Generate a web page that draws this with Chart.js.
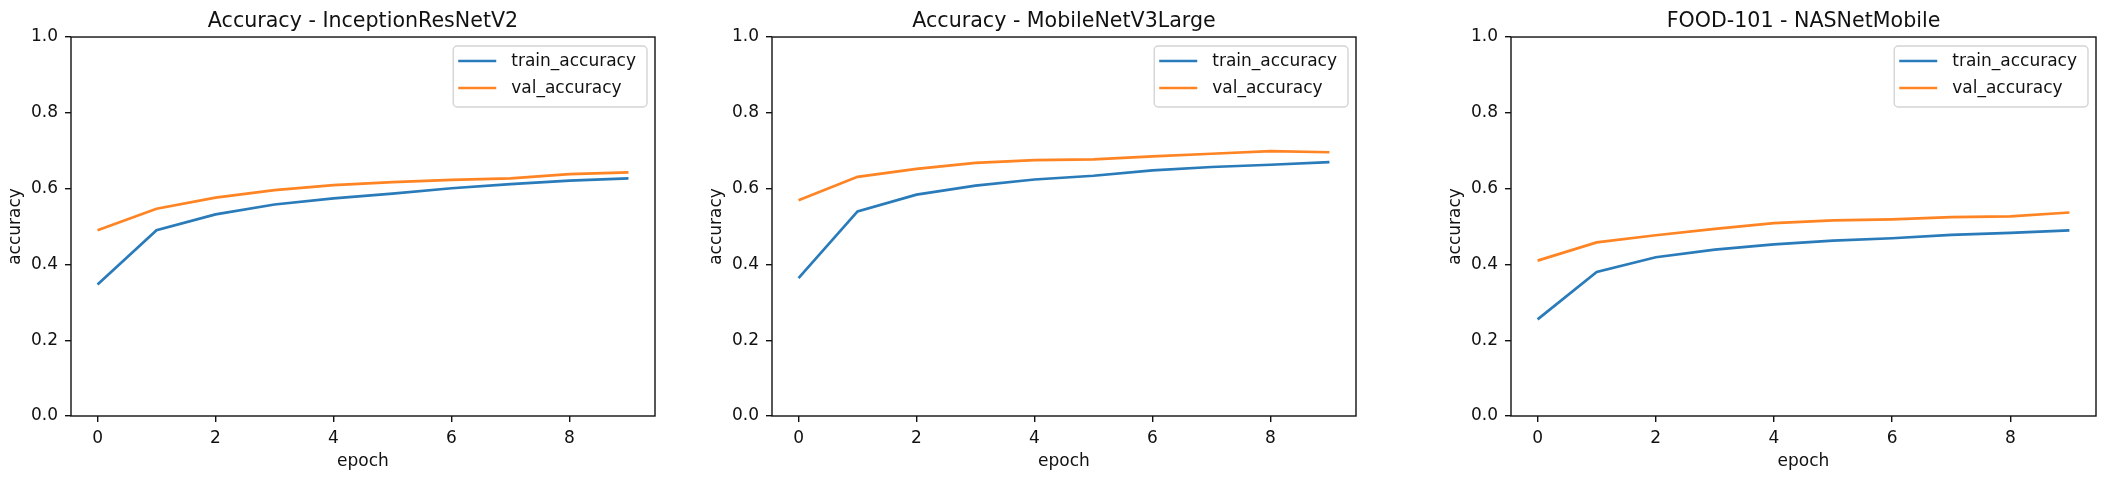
<!DOCTYPE html>
<html>
<head>
<meta charset="utf-8">
<script src="https://cdn.jsdelivr.net/npm/chart.js@4"></script>
<style>
    html, body { margin: 0; padding: 0; background: #fff; }
    body { width: 2106px; height: 478px; position: relative; overflow: hidden; }
    .panel { position: absolute; top: 0; }
</style>
</head>
<body>
<div class="panel" style="left:0px"><canvas id="chartInception" width="665" height="478"></canvas></div>
<div class="panel" style="left:701px"><canvas id="chartMobile" width="665" height="478"></canvas></div>
<div class="panel" style="left:1440px"><canvas id="chartNasnet" width="666" height="478"></canvas></div>
<script>
// ============================================
// Data
// ============================================
const epochs = [0, 1, 2, 3, 4, 5, 6, 7, 8, 9];
const xTicks = [0, 2, 4, 6, 8];
const yTicks = [0.0, 0.2, 0.4, 0.6, 0.8, 1.0];
const seriesLabels = ['train_accuracy', 'val_accuracy'];

const inceptionTrain = [0.347, 0.490, 0.532, 0.558, 0.574, 0.587, 0.601, 0.612, 0.621, 0.627];
const inceptionVal   = [0.490, 0.547, 0.576, 0.596, 0.609, 0.617, 0.623, 0.627, 0.638, 0.643];

const mobileTrain = [0.364, 0.540, 0.584, 0.608, 0.624, 0.634, 0.648, 0.657, 0.663, 0.670];
const mobileVal   = [0.569, 0.631, 0.652, 0.668, 0.675, 0.677, 0.685, 0.692, 0.699, 0.696];

const nasnetTrain = [0.255, 0.380, 0.419, 0.439, 0.453, 0.463, 0.469, 0.478, 0.483, 0.490];
const nasnetVal   = [0.410, 0.458, 0.477, 0.494, 0.509, 0.516, 0.519, 0.525, 0.527, 0.537];

// ============================================
// Style
// ============================================
const FONT = 'DejaVu Sans';
const BLUE = '#2a7bba';
const ORANGE = '#ff8424';
const INK = '#111';

// Box around the plot area (all four spines)
const framePlugin = {
    id: 'frame',
    afterDraw(chart) {
        const { ctx, chartArea: a } = chart;
        ctx.save();
        ctx.strokeStyle = INK;
        ctx.lineWidth = 1.4;
        ctx.strokeRect(a.left, a.top, a.right - a.left, a.bottom - a.top);
        ctx.restore();
    }
};

// Legend inside the plot, upper right, matplotlib style
const innerLegend = {
    id: 'innerLegend',
    afterDraw(chart) {
        const { ctx, chartArea: a } = chart;
        const sets = chart.data.datasets;
        ctx.save();
        ctx.font = '17px "' + FONT + '"';
        const textW = Math.max(...sets.map(d => ctx.measureText(d.label).width));
        const w = 5 + 38 + 15 + textW + 11;
        const h = 61;
        const x = a.right - 8 - w;
        const y = a.top + 9;

        ctx.beginPath();
        ctx.roundRect(x, y, w, h, 4);
        ctx.fillStyle = 'rgba(255,255,255,0.8)';
        ctx.fill();
        ctx.strokeStyle = '#d4d4d4';
        ctx.lineWidth = 1.4;
        ctx.stroke();

        sets.forEach((d, i) => {
            const cy = y + 15 + i * 27;
            ctx.beginPath();
            ctx.moveTo(x + 5, cy);
            ctx.lineTo(x + 43, cy);
            ctx.strokeStyle = d.borderColor;
            ctx.lineWidth = 2.7;
            ctx.stroke();
            ctx.fillStyle = INK;
            ctx.textBaseline = 'middle';
            ctx.textAlign = 'left';
            ctx.fillText(d.label, x + 58, cy + 1);
        });
        ctx.restore();
    }
};

// ============================================
// Build one accuracy panel
// ============================================
function makePanel(canvasId, title, train, val) {
    const ctx = document.getElementById(canvasId).getContext('2d');
    const toPoints = arr => epochs.map((e, i) => ({ x: e, y: arr[i] }));

    return new Chart(ctx, {
        type: 'line',
        data: {
            datasets: [{
                label: seriesLabels[0],
                data: toPoints(train),
                borderColor: BLUE,
                borderWidth: 2.7,
                pointRadius: 0,
                tension: 0
            }, {
                label: seriesLabels[1],
                data: toPoints(val),
                borderColor: ORANGE,
                borderWidth: 2.7,
                pointRadius: 0,
                tension: 0
            }]
        },
        options: {
            responsive: false,
            animation: false,
            layout: { padding: { left: 0, right: 10, top: 0, bottom: 0 } },
            plugins: {
                legend: { display: false },
                tooltip: { enabled: false },
                title: {
                    display: true,
                    text: title,
                    fullSize: false,
                    color: INK,
                    font: { family: FONT, size: 20.6, weight: 'normal', lineHeight: 1.2 },
                    padding: { top: 9, bottom: 3.3 }
                }
            },
            scales: {
                x: {
                    type: 'linear',
                    min: -0.45,
                    max: 9.45,
                    afterBuildTicks: s => { s.ticks = xTicks.map(v => ({ value: v })); },
                    afterFit: s => { s.height = 62; },
                    grid: { drawOnChartArea: false, tickLength: 6, color: INK, lineWidth: 1.4 },
                    border: { display: false },
                    ticks: {
                        color: INK,
                        padding: 6,
                        maxRotation: 0,
                        font: { family: FONT, size: 17 },
                        callback: v => String(v)
                    },
                    title: {
                        display: true,
                        text: 'epoch',
                        color: INK,
                        font: { family: FONT, size: 17, lineHeight: 1.2 },
                        padding: { top: 0, bottom: 6 }
                    }
                },
                y: {
                    min: 0,
                    max: 1,
                    afterBuildTicks: s => { s.ticks = yTicks.map(v => ({ value: v })); },
                    afterFit: s => { s.width = 71; },
                    grid: { drawOnChartArea: false, tickLength: 6, color: INK, lineWidth: 1.4 },
                    border: { display: false },
                    ticks: {
                        color: INK,
                        padding: 7,
                        font: { family: FONT, size: 17 },
                        callback: v => v.toFixed(1)
                    },
                    title: {
                        display: true,
                        text: 'accuracy',
                        color: INK,
                        font: { family: FONT, size: 17, lineHeight: 1.2 },
                        padding: { top: 5, bottom: 0 }
                    }
                }
            }
        },
        plugins: [framePlugin, innerLegend]
    });
}

makePanel('chartInception', 'Accuracy - InceptionResNetV2', inceptionTrain, inceptionVal);
makePanel('chartMobile', 'Accuracy - MobileNetV3Large', mobileTrain, mobileVal);
makePanel('chartNasnet', 'FOOD-101 - NASNetMobile', nasnetTrain, nasnetVal);
</script>
</body>
</html>
